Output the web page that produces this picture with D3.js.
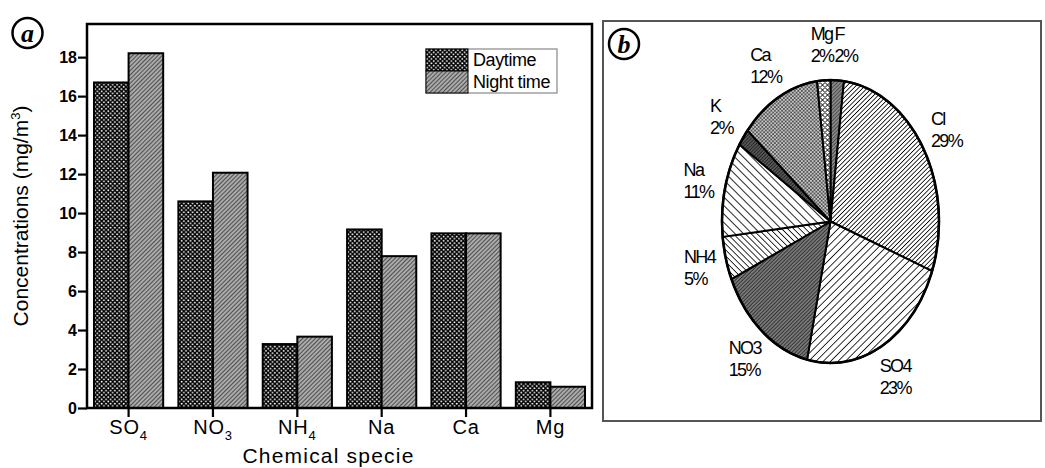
<!DOCTYPE html>
<html>
<head>
<meta charset="utf-8">
<script src="https://cdn.jsdelivr.net/npm/d3@7"></script>
<style>
  html, body { margin: 0; padding: 0; background: #fff; }
  svg { display: block; font-family: "Liberation Sans", Arial, sans-serif; }
</style>
</head>
<body>
<svg id="chart" width="1045" height="468"></svg>
<script>
// ---------- data ----------
const categories = ["SO4", "NO3", "NH4", "Na", "Ca", "Mg"];
const seriesNames = ["Daytime", "Night time"];
const daytime = [16.7, 10.6, 3.28, 9.16, 8.96, 1.32];
const nighttime = [18.2, 12.07, 3.66, 7.79, 8.96, 1.09];
const yTicks = [0, 2, 4, 6, 8, 10, 12, 14, 16, 18];

const pieLabels = ["F", "Cl", "SO4", "NO3", "NH4", "Na", "K", "Ca", "Mg"];
const pieValues = [2, 29, 23, 15, 5, 11, 2, 12, 2];

// ---------- setup ----------
const svg = d3.select("#chart");
const defs = svg.append("defs");

function linePattern(id, spacing, angle, stroke, sw, bg) {
  const p = defs.append("pattern").attr("id", id)
    .attr("patternUnits", "userSpaceOnUse")
    .attr("width", spacing).attr("height", spacing)
    .attr("patternTransform", `rotate(${angle})`);
  p.append("rect").attr("width", spacing).attr("height", spacing).attr("fill", bg);
  p.append("line").attr("x1", 0).attr("y1", 0).attr("x2", 0).attr("y2", spacing)
    .attr("stroke", stroke).attr("stroke-width", sw);
}
function dotPattern(id, size, r, bg, dot) {
  const p = defs.append("pattern").attr("id", id)
    .attr("patternUnits", "userSpaceOnUse")
    .attr("width", size).attr("height", size);
  p.append("rect").attr("width", size).attr("height", size).attr("fill", bg);
  p.append("circle").attr("cx", size / 4).attr("cy", size / 4).attr("r", r).attr("fill", dot);
  p.append("circle").attr("cx", 3 * size / 4).attr("cy", 3 * size / 4).attr("r", r).attr("fill", dot);
}

// bar patterns
dotPattern("pDay", 4.4, 0.95, "#000", "#fff");
linePattern("pNight", 3, 45, "#111", 1.2, "#aaa");

// pie patterns
linePattern("pF", 2.6, 45, "#222", 1.1, "#888");
linePattern("pCl", 3.2, 45, "#000", 1.6, "#fff");
linePattern("pSO4", 5.2, 45, "#000", 1.6, "#fff");
linePattern("pNO3", 2.6, 45, "#111", 1.2, "#777");
linePattern("pNH4", 4.2, -45, "#000", 1.6, "#fff");
linePattern("pNa", 6, -45, "#000", 1.7, "#fff");
linePattern("pK", 2.4, 45, "#111", 1.2, "#555");
dotPattern("pCa", 3.6, 0.8, "#555", "#fff");
(function () {
  const p = defs.append("pattern").attr("id", "pMg")
    .attr("patternUnits", "userSpaceOnUse").attr("width", 5).attr("height", 5);
  p.append("rect").attr("width", 5).attr("height", 5).attr("fill", "#fff");
  p.append("path").attr("d", "M0,2.5 L2.5,0 L5,2.5 L2.5,5 Z").attr("fill", "none")
    .attr("stroke", "#000").attr("stroke-width", 1);
})();
const piePatterns = ["pF", "pCl", "pSO4", "pNO3", "pNH4", "pNa", "pK", "pCa", "pMg"];

// ---------- panel (a): grouped bar chart ----------
const L = { left: 87, right: 592, top: 24, bottom: 408 };

const x0 = d3.scaleBand().domain(categories).range([L.left, L.right])
  .paddingInner(0.18).paddingOuter(0.083);
const x1 = d3.scaleBand().domain(seriesNames).range([0, x0.bandwidth()]).padding(0);
const y = d3.scaleLinear().domain([0, 19.7]).range([L.bottom, L.top]);

const gA = svg.append("g");

const rows = categories.map((c, i) => ({ cat: c, vals: [daytime[i], nighttime[i]] }));
const fills = ["url(#pDay)", "url(#pNight)"];

gA.selectAll("g.grp").data(rows).join("g").attr("class", "grp")
  .attr("transform", d => `translate(${x0(d.cat)},0)`)
  .selectAll("rect").data(d => d.vals.map((v, j) => ({ v, s: seriesNames[j], j })))
  .join("rect")
  .attr("x", d => x1(d.s))
  .attr("y", d => y(d.v))
  .attr("width", x1.bandwidth())
  .attr("height", d => y(0) - y(d.v))
  .attr("fill", d => fills[d.j])
  .attr("stroke", "#000").attr("stroke-width", 2);

// frame
gA.append("rect").attr("x", L.left).attr("y", L.top)
  .attr("width", L.right - L.left).attr("height", L.bottom - L.top)
  .attr("fill", "none").attr("stroke", "#000").attr("stroke-width", 2.5);

// y axis
const yAxis = gA.append("g").attr("transform", `translate(${L.left},0)`)
  .call(d3.axisLeft(y).tickValues(yTicks).tickSize(9).tickSizeOuter(0).tickPadding(1));
yAxis.select(".domain").remove();
yAxis.selectAll(".tick line").attr("stroke", "#000").attr("stroke-width", 2.2);
yAxis.selectAll(".tick text").attr("font-size", 16).attr("font-weight", "bold")
  .attr("fill", "#000").attr("font-family", "Liberation Sans, Arial, sans-serif");

// x axis
const xAxis = gA.append("g").attr("transform", `translate(0,${L.bottom})`)
  .call(d3.axisBottom(x0).tickSize(9).tickSizeOuter(0).tickPadding(3));
xAxis.select(".domain").remove();
xAxis.selectAll(".tick line").attr("stroke", "#000").attr("stroke-width", 2.2);
xAxis.selectAll(".tick text").each(function (d) {
  const t = d3.select(this).text(null)
    .attr("font-size", 20).attr("fill", "#000")
    .attr("font-family", "Liberation Sans, Arial, sans-serif")
    .attr("letter-spacing", 0.8);
  const m = d.match(/^([A-Za-z]+)(\d*)$/);
  t.append("tspan").attr("fill", "#000").text(m[1]);
  if (m[2]) t.append("tspan").attr("fill", "#000").attr("font-size", 13).attr("dy", 6).text(m[2]);
});

// axis titles
gA.append("text").attr("x", (L.left + L.right) / 2 - 11).attr("y", 463)
  .attr("text-anchor", "middle").attr("font-size", 21).attr("letter-spacing", 1.2)
  .text("Chemical specie");

const yt = gA.append("text")
  .attr("transform", `translate(28,${(L.top + L.bottom) / 2}) rotate(-90)`)
  .attr("text-anchor", "middle").attr("font-size", 21);
yt.append("tspan").text("Concentrations (mg/m");
yt.append("tspan").attr("font-size", 13).attr("dy", -8).text("3");
yt.append("tspan").attr("dy", 8).text(")");

// legend
const lg = gA.append("g").attr("transform", "translate(426,49)");
lg.append("rect").attr("width", 131).attr("height", 44)
  .attr("fill", "#fff").attr("stroke", "#888").attr("stroke-width", 1.2);
seriesNames.forEach((s, i) => {
  lg.append("rect").attr("x", 0).attr("y", i * 22).attr("width", 42).attr("height", 22)
    .attr("fill", fills[i]).attr("stroke", "#000").attr("stroke-width", 1);
  lg.append("text").attr("x", 47).attr("y", i * 22 + 11).attr("dy", "0.35em")
    .attr("font-size", 18).attr("letter-spacing", -0.4).text(s);
});

// circled letter
function circled(cx, cy, letter) {
  svg.append("circle").attr("cx", cx).attr("cy", cy).attr("r", 15)
    .attr("fill", "#fff").attr("stroke", "#000").attr("stroke-width", 2.5);
  svg.append("text").attr("x", cx).attr("y", cy).attr("dy", "0.33em")
    .attr("text-anchor", "middle").attr("font-family", "Liberation Serif, DejaVu Serif, serif")
    .attr("font-style", "italic").attr("font-weight", "bold").attr("font-size", 26)
    .text(letter);
}
circled(27.5, 33, "a");

// ---------- panel (b): pie chart (elliptical) ----------
svg.append("rect").attr("x", 603).attr("y", 21).attr("width", 438).attr("height", 400)
  .attr("fill", "#fff").attr("stroke", "#555").attr("stroke-width", 2);
circled(624, 44, "b");

const P = { cx: 830.5, cy: 221.5, rx: 108.5, ry: 141.5 };
const pie = d3.pie().sort(null).startAngle(0).endAngle(2 * Math.PI);
const arcs = pie(pieValues);

const pt = (a, k = 1) => [P.cx + k * P.rx * Math.sin(a), P.cy - k * P.ry * Math.cos(a)];
function slicePath(d) {
  const p0 = pt(d.startAngle), p1 = pt(d.endAngle);
  const large = (d.endAngle - d.startAngle) > Math.PI ? 1 : 0;
  const path = d3.path();
  path.moveTo(P.cx, P.cy);
  path.lineTo(p0[0], p0[1]);
  return path.toString() +
    `A${P.rx},${P.ry} 0 ${large} 1 ${p1[0]},${p1[1]}Z`;
}

const gB = svg.append("g");
gB.selectAll("path.slice").data(arcs).join("path").attr("class", "slice")
  .attr("d", slicePath)
  .attr("fill", (d, i) => `url(#${piePatterns[i]})`)
  .attr("stroke", "#000").attr("stroke-width", 2).attr("stroke-linejoin", "round");
gB.append("ellipse").attr("cx", P.cx).attr("cy", P.cy).attr("rx", P.rx).attr("ry", P.ry)
  .attr("fill", "none").attr("stroke", "#000").attr("stroke-width", 2.6);

// labels
const boxes = [];
const lab = gB.selectAll("g.lab").data(arcs).join("g").attr("class", "lab");
lab.each(function (d, i) {
  const g = d3.select(this);
  const mid = (d.startAngle + d.endAngle) / 2;
  const c = pt(mid, 1.25);
  const t1 = g.append("text").attr("y", c[1] - 11).attr("dy", "0.35em")
    .attr("font-size", 18).attr("letter-spacing", -1.6).text(pieLabels[i]);
  const t2 = g.append("text").attr("y", c[1] + 11).attr("dy", "0.35em")
    .attr("font-size", 18).attr("letter-spacing", -1.6).text(pieValues[i] + "%");
  const w = Math.max(t1.node().getComputedTextLength(), t2.node().getComputedTextLength());
  boxes[i] = { g, t1, t2, x: c[0] - w / 2, y: c[1], w };
});
// small collision pass: push a block right if it overlaps another block
for (let i = 0; i < boxes.length; i++) {
  for (let j = 0; j < boxes.length; j++) {
    if (i === j) continue;
    const a = boxes[i], b = boxes[j];
    if (Math.abs(a.y - b.y) < 40 && a.x >= b.x && a.x < b.x + b.w + 1) {
      a.x = b.x + b.w + 1;
    }
  }
}
boxes.forEach(b => { b.t1.attr("x", b.x); b.t2.attr("x", b.x); });
</script>
</body>
</html>
